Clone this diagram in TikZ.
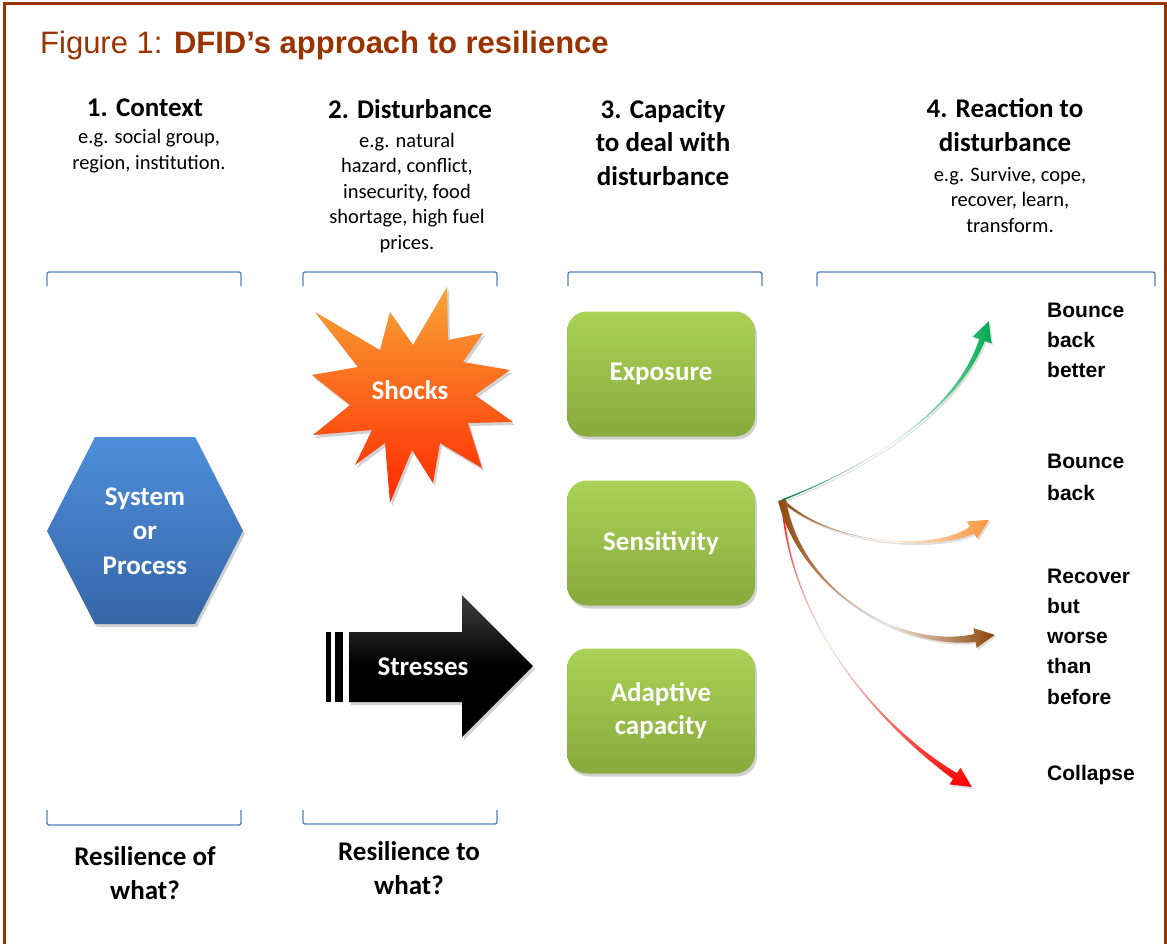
\documentclass[tikz,border=0pt]{standalone}
\usepackage{fontspec}
\setmainfont{Carlito}
\newfontfamily\arialf{Liberation Sans}
\usetikzlibrary{calc,shadows}
\definecolor{frame}{RGB}{153,51,0}
\definecolor{brk}{RGB}{79,129,189}
\definecolor{gtop}{RGB}{170,210,85}
\definecolor{gbot}{RGB}{136,170,62}
\definecolor{btop}{RGB}{78,142,218}
\definecolor{bbot}{RGB}{54,102,168}
\definecolor{sstop}{RGB}{247,165,55}
\definecolor{ssbot}{RGB}{255,40,0}
\definecolor{agreen}{RGB}{0,170,80}
\definecolor{aorange}{RGB}{247,150,60}
\definecolor{abrown}{RGB}{140,70,10}
\definecolor{ared}{RGB}{255,0,0}
% #1 start, #2 control 1, #3 control 2, #4 end, #5 start half width, #6 end half width, #7 style
\newcommand\bentarrow[7]{%
  \path[#7] ($(#1)!#5pt!90:(#2)$) .. controls (#2) and (#3) .. ($(#4)!#6pt!-90:(#3)$)
    -- ($(#4)!10pt!-90:(#3)$) -- ($(#4)!-20pt!(#3)$) -- ($(#4)!10pt!90:(#3)$)
    -- ($(#4)!#6pt!90:(#3)$) .. controls (#3) and (#2) .. ($(#1)!#5pt!-90:(#2)$) -- cycle;}
\begin{document}
\begin{tikzpicture}[x=1pt,y=-1pt,
  hdr/.style={font=\fontsize{27}{33.5}\selectfont\bfseries, align=center, inner sep=0pt, anchor=base},
  sub/.style={font=\fontsize{20.5}{25.5}\selectfont, align=center, inner sep=0pt, anchor=base},
  bracket/.style={draw=brk, line width=1.3pt, rounded corners=2pt},
  shade/.style={drop shadow={opacity=0.35, shadow xshift=2pt, shadow yshift=-3pt}},
  gbox/.style={rounded corners=20pt, minimum width=188pt, minimum height=125pt,
    top color=gtop, bottom color=gbot, text=white,
    font=\fontsize{27}{33}\selectfont\bfseries, align=center, shade},
  shapetext/.style={text=white, font=\fontsize{27}{34.5}\selectfont\bfseries, align=center, inner sep=0pt},
  outcome/.style={font=\arialf\fontsize{21}{29.7}\selectfont\bfseries, align=left, inner sep=0pt, anchor=base west},
  arrowshadow/.style={drop shadow={opacity=0.25, shadow xshift=1.5pt, shadow yshift=-2pt}},
]
\useasboundingbox (0,0) rectangle (1167,943);
\fill[white] (0,0) rectangle (1167,943);
% frame
\draw[frame, line width=3pt] (4,945) -- (4,3) -- (1165,3) -- (1165,945);
% title
\node[anchor=base west, inner sep=0pt, text=frame, font=\arialf\fontsize{31}{36}\selectfont] (title) at (40,53)
  {Figure 1: \textbf{DFID’s approach to resilience}};
% column headers (anchor=base is the baseline of the last line)
\node[hdr] (h1) at (145,116) {1. Context};
\node[sub] (s1) at (149,169) {e.g. social group,\\region, institution.};
\node[hdr] (h2) at (410,118) {2. Disturbance};
\node[sub] (s2) at (407,249) {e.g. natural\\hazard, conflict,\\insecurity, food\\shortage, high fuel\\prices.};
\node[hdr] (h3) at (663,185) {3. Capacity\\to deal with\\disturbance};
\node[hdr] (h4) at (1005,151) {4. Reaction to\\disturbance};
\node[sub] (s4) at (1010,232) {e.g. Survive, cope,\\recover, learn,\\transform.};
% top brackets
\draw[bracket] (47,286) -- (47,272) -- (241,272) -- (241,286);
\draw[bracket] (303,286) -- (303,272) -- (497,272) -- (497,286);
\draw[bracket] (568,286) -- (568,272) -- (762,272) -- (762,286);
\draw[bracket] (817,286) -- (817,272) -- (1155,272) -- (1155,286);
% bottom brackets
\draw[bracket] (47,810) -- (47,825) -- (241,825) -- (241,810);
\draw[bracket] (303,810) -- (303,824) -- (497,824) -- (497,810);
% bottom labels
\node[hdr] (b1) at (145,899) {Resilience of\\what?};
\node[hdr] (b2) at (409,894) {Resilience to\\what?};
% hexagon
\path[top color=btop, bottom color=bbot, shade]
  (47,531) -- (95,437) -- (195,437) -- (243,531) -- (195,624) -- (95,624) -- cycle;
\node[shapetext] (sys) at (145,531) {System\\or\\Process};
% shocks star
\path[top color=sstop, bottom color=ssbot, shade]
  (447,287) -- (413,345) -- (390,312) -- (380,350) -- (315,312) -- (358,367)
  -- (312,375) -- (350,405) -- (313,435) -- (372,430) -- (355,465) -- (385,443)
  -- (390,503) -- (412,450) -- (433,483) -- (440,443) -- (482,468) -- (468,423)
  -- (513,422) -- (475,395) -- (510,370) -- (463,362) -- (483,333) -- (448,340) -- cycle;
\node[shapetext] (shocks) at (410,390) {Shocks};
% stresses arrow
\path[top color=black!75, bottom color=black, middle color=black, shade]
  (349,632) -- (462,632) -- (462,595) -- (533,666) -- (462,737) -- (462,702) -- (349,702) -- cycle;
\fill[black] (326,632) rectangle (331,702);
\fill[black] (335,632) rectangle (343,702);
\node[shapetext] (stresses) at (423,667) {Stresses};
% capacity boxes
\node[gbox] (exp) at (661,374) {Exposure};
\node[gbox] (sen) at (661,543) {Sensitivity};
\node[gbox] (ada) at (661,711) {Adaptive\\capacity};
% reaction arrows
\coordinate (src) at (782,500);
\coordinate (g1) at (860,470); \coordinate (g2) at (955,415); \coordinate (gend) at (982,340);
\coordinate (o1) at (830,545); \coordinate (o2) at (935,552); \coordinate (oend) at (972,530);
\coordinate (w1) at (800,590); \coordinate (w2) at (900,650); \coordinate (wend) at (975,638);
\coordinate (r1) at (790,640); \coordinate (r2) at (900,740); \coordinate (rend) at (955,776);
\bentarrow{src}{r1}{r2}{rend}{1}{3.5}{top color=ared, bottom color=ared, middle color=ared!10, arrowshadow}
\bentarrow{src}{o1}{o2}{oend}{1.5}{4}{left color=abrown, right color=aorange, middle color=aorange!12, arrowshadow}
\bentarrow{src}{w1}{w2}{wend}{4}{4}{left color=abrown, right color=abrown, middle color=abrown!12, arrowshadow}
\bentarrow{src}{g1}{g2}{gend}{0.8}{3}{left color=agreen!80!black, right color=agreen, middle color=agreen!12, arrowshadow}
% outcome labels (anchor=base is the baseline of the last line)
\node[outcome] (o-better) at (1047,377) {Bounce\\back\\better};
\node[outcome, font=\arialf\fontsize{21}{32}\selectfont\bfseries] (o-back) at (1047,500) {Bounce\\back};
\node[outcome, font=\arialf\fontsize{21}{30.2}\selectfont\bfseries] (o-worse) at (1047,704) {Recover\\but\\worse\\than\\before};
\node[outcome] (o-collapse) at (1047,780) {Collapse};
\end{tikzpicture}
\end{document}
